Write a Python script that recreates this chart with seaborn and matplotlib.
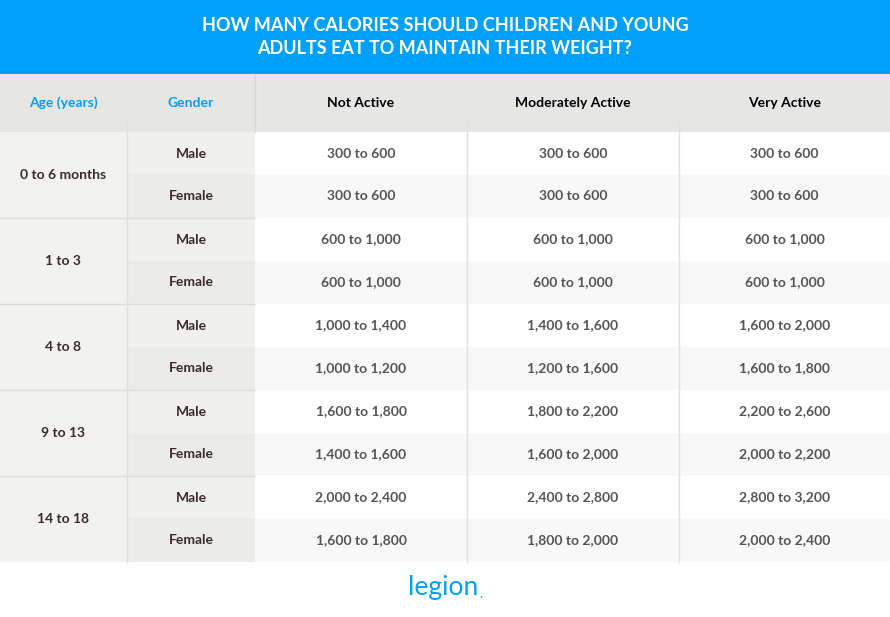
import matplotlib
matplotlib.use("Agg")
import matplotlib.pyplot as plt
from matplotlib.patches import Rectangle
import seaborn as sns

title = "HOW MANY CALORIES SHOULD CHILDREN AND YOUNG\nADULTS EAT TO MAINTAIN THEIR WEIGHT?"
columns = ["Age (years)", "Gender", "Not Active", "Moderately Active", "Very Active"]
ages = ["0 to 6 months", "1 to 3", "4 to 8", "9 to 13", "14 to 18"]
genders = ["Male", "Female"]
not_active = ["300 to 600", "300 to 600", "600 to 1,000", "600 to 1,000",
              "1,000 to 1,400", "1,000 to 1,200", "1,600 to 1,800", "1,400 to 1,600",
              "2,000 to 2,400", "1,600 to 1,800"]
moderately_active = ["300 to 600", "300 to 600", "600 to 1,000", "600 to 1,000",
                     "1,400 to 1,600", "1,200 to 1,600", "1,800 to 2,200", "1,600 to 2,000",
                     "2,400 to 2,800", "1,800 to 2,000"]
very_active = ["300 to 600", "300 to 600", "600 to 1,000", "600 to 1,000",
               "1,600 to 2,000", "1,600 to 1,800", "2,200 to 2,600", "2,000 to 2,200",
               "2,800 to 3,200", "2,000 to 2,400"]

sns.set_theme(style="white", font="Lato")
BLUE = "#00a0f8"
DARK = "#3d2b2b"
GREY_TXT = "#555555"

col_edges = [0, 127, 255, 467, 679, 890]
top_h, head_h, row_h = 74, 58, 43
body_top = top_h + head_h

fig = plt.figure(figsize=(8.9, 6.17), dpi=100)
ax = fig.add_axes([0, 0, 1, 1])
ax.set_xlim(0, 890)
ax.set_ylim(617, 0)
ax.axis("off")

# title band
ax.add_patch(Rectangle((0, 0), 890, top_h, color=BLUE, lw=0))
ax.text(445, 37, title, ha="center", va="center", color="white",
        fontsize=13, fontweight="bold", linespacing=1.45)

# column header
ax.add_patch(Rectangle((0, top_h), 890, head_h, color="#e6e6e5", lw=0))
for i, c in enumerate(columns):
    cx = (col_edges[i] + col_edges[i + 1]) / 2
    ax.text(cx, top_h + head_h / 2, c, ha="center", va="center", fontsize=10,
            fontweight="bold", color=BLUE if i < 2 else "black")
ax.plot([255, 255], [top_h, body_top], color="#d8d8d8", lw=1)

values = [not_active, moderately_active, very_active]
n_rows = len(ages) * len(genders)
for r in range(n_rows):
    y0 = body_top + r * row_h
    female = r % 2 == 1
    ax.add_patch(Rectangle((255, y0), 635, row_h, color="#f8f8f8" if female else "white", lw=0))
    ax.add_patch(Rectangle((127, y0), 128, row_h, color="#ebebea" if female else "#f0f0ef", lw=0))
    ax.text(191, y0 + row_h / 2, genders[r % 2], ha="center", va="center",
            fontsize=10, fontweight="bold", color=DARK)
    for j, col in enumerate(values):
        cx = (col_edges[j + 2] + col_edges[j + 3]) / 2
        ax.text(cx, y0 + row_h / 2, col[r], ha="center", va="center",
                fontsize=10, fontweight="bold", color=GREY_TXT)

for k, a in enumerate(ages):
    y0 = body_top + k * 2 * row_h
    ax.add_patch(Rectangle((0, y0), 127, 2 * row_h, color="#f2f2f1", lw=0))
    ax.text(63, y0 + row_h, a, ha="center", va="center", fontsize=10,
            fontweight="bold", color=DARK)
    if k > 0:
        ax.plot([0, 255], [y0, y0], color="#dcdcdc", lw=1)

body_bot = body_top + n_rows * row_h
for x in [127, 467, 679]:
    ax.plot([x, x], [body_top - 8, body_bot], color="#e0e0e0", lw=1)

ax.text(443, 588, "legion", ha="center", va="center", fontsize=19,
        color=BLUE, fontfamily="Lato")
ax.text(481, 594, ".", ha="center", va="center", fontsize=9, color=BLUE)

fig.savefig("out.png", dpi=100)
